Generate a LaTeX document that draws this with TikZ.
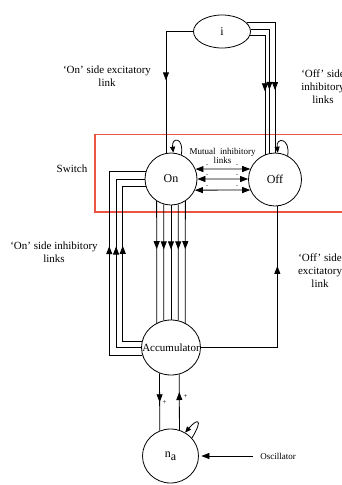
\documentclass[tikz,border=0pt]{standalone}
\usepackage{fontspec}
\setmainfont{Liberation Serif}
\usepackage{tikz}
\usetikzlibrary{arrows.meta, shapes.geometric, decorations.markings}
\definecolor{switchred}{RGB}{235, 85, 65}

\begin{document}
\begin{tikzpicture}[x=1pt, y=-1pt, >={Triangle[width=6pt,length=8pt]},
  neuron/.style={draw, circle, inner sep=0pt, line width=0.8pt, font=\fontsize{12}{12}\selectfont},
  oval/.style={draw, ellipse, inner sep=0pt, line width=0.8pt, font=\fontsize{12}{12}\selectfont},
  link/.style={line width=0.8pt},
  tipat/.style={postaction={decorate}, decoration={markings, mark=at position #1 with {\arrow{Triangle[width=6pt,length=8pt]}}}},
  loopy/.style={line width=0.8pt, ->, >={Triangle[width=5pt,length=6pt]}},
  lbl/.style={font=\fontsize{11}{13}\selectfont, align=center},
  smalltxt/.style={font=\fontsize{9}{9}\selectfont, align=center},
  sign/.style={font=\fontsize{6}{6}\selectfont, inner sep=0pt},
]
  \useasboundingbox (0,0) rectangle (342,485);

  % ---------- switch box ----------
  \draw[switchred, line width=1.2pt] (95,134.6) rectangle (360,212);

  % ---------- units ----------
  \node[oval, minimum width=57pt, minimum height=33pt] (i) at (222,31.5) {i};
  \node[neuron, minimum size=52pt] (On) at (171,179) {On};
  \node[neuron, minimum size=53pt] (Off) at (275,179.5) {Off};
  \node[oval, minimum width=59pt, minimum height=55pt,
        label={[font=\fontsize{11}{11}\selectfont]center:Accumulator}] (Acc) at (171,347.5) {};
  \node[oval, minimum width=56pt, minimum height=54pt] (na) at (170.5,456) {n\raisebox{-2.5pt}{a}};

  % ---------- labels ----------
  \node[lbl] (onexc) at (107,76.5) {‘On’ side excitatory\\link};
  \node[lbl] (offinh) at (323,87) {‘Off’ side\\inhibitory\\links};
  \node[lbl] (sw) at (72,169) {Switch};
  \node[smalltxt] (mut) at (222.5,156) {Mutual\ \ inhibitory\\links};
  \node[lbl] (oninh) at (54,252.5) {‘On’ side inhibitory\\links};
  \node[lbl] (offexc) at (320,271) {‘Off’ side\\excitatory\\link};
  \node[smalltxt, inner xsep=7pt] (osc) at (278,456) {Oscillator};

  % ---------- input links ----------
  \draw[link, tipat=76pt] (i.west) -| (On.101);
  \draw[link, tipat=96pt] (i.20) -| (Off.90);
  \draw[link, tipat=79pt] (i.4) -| (Off.102);
  \draw[link, tipat=71pt] (i.-7) -| (Off.112);

  % ---------- mutual inhibition ----------
  \draw[link, <->] (On.22) -- (Off.157);
  \draw[link, <->] (On.0) -- (Off.179);
  \draw[link, <->] (On.-25) -- (Off.203);
  \foreach \yy [count=\k] in {165.5,176,187} {
    \node[sign] (sl\k) at (207,\yy) {-};
    \node[sign] (sr\k) at (237,\yy) {-};
  }

  % ---------- On and Accumulator ----------
  \foreach \a/\b/\d in {237/120/48, 254/105/45, 270/90/44, 286/75/45, 303/60/48}
    \draw[link, tipat=\d pt] (On.\a) -- (Acc.\b);
  \draw[link, tipat=142pt] (Acc.195) -- ++(-33,0) |- (On.164);
  \draw[link, tipat=126pt] (Acc.180) -- ++(-25,0) |- (On.180);
  \draw[link, tipat=115pt] (Acc.169) -- ++(-19,0) |- (On.196);
  \draw[link, tipat=158pt] (Acc.east) -| (Off.275);

  % ---------- Accumulator and n_a ----------
  \draw[link, tipat=29pt] (Acc.246) -- (na.113);
  \draw[link, tipat=38pt] (na.71) -- (Acc.287);
  \node[sign, font=\fontsize{7}{7}\selectfont] (p1) at (164.5,403) {+};
  \node[sign, font=\fontsize{7}{7}\selectfont] (p2) at (185.5,397) {+};
  \draw[link, ->, shorten >=2.5pt] (osc.west) -- (na.east);

  % ---------- self loops ----------
  \draw[loopy] (On.67) .. controls +(3,-18) and +(-2,-16) .. (On.85);
  \draw[loopy] (Off.62) .. controls +(3,-18) and +(-2,-16) .. (Off.84);
  \draw[loopy] (na.40) .. controls +(12,-20) and +(12,-14) .. (na.58);

\end{tikzpicture}
\end{document}
